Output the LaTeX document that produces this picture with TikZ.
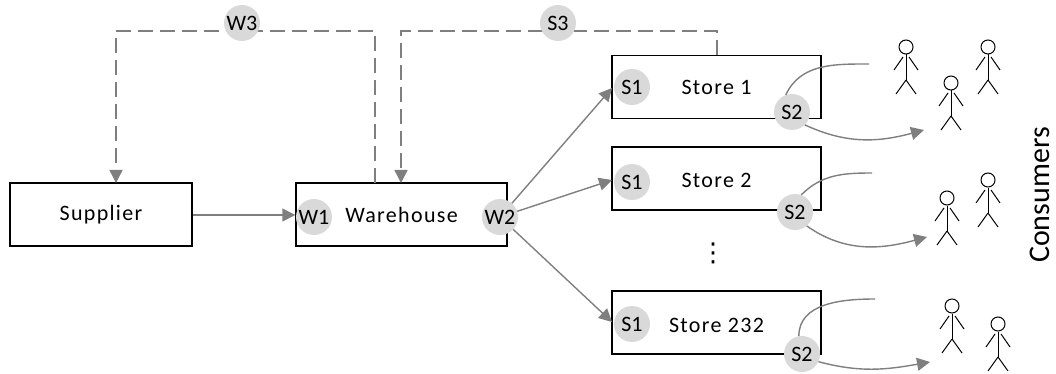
\documentclass[tikz,border=0pt]{standalone}
\usepackage{fontspec}
\usepackage{tikz}
\usetikzlibrary{arrows.meta}
\setmainfont{Carlito}
\newfontfamily\spacedfont[LetterSpace=6]{Carlito}
\newfontfamily\vdotsfont{DejaVu Sans}
\definecolor{linegray}{HTML}{7F7F7F}
\definecolor{badgegray}{HTML}{D9D9D9}
\tikzset{
    box/.style={draw=black, line width=1.4pt, minimum height=63pt, inner sep=0pt, font=\spacedfont\fontsize{22}{24}\selectfont},
    badge/.style={circle, fill=badgegray, minimum size=36pt, inner sep=0pt, font=\fontsize{22}{24}\selectfont},
    link/.style={draw=linegray, line width=1.4pt},
    flow/.style={link, -{Triangle[length=13pt, width=13pt]}},
    dashflow/.style={flow, dash pattern=on 15pt off 7pt},
    head/.style={circle, draw=black, line width=1pt, minimum size=14pt, inner sep=0pt},
}
\begin{document}
\begin{tikzpicture}[x=1pt, y=-1pt]
    \useasboundingbox (0,0) rectangle (1056,374);

    \node[box, minimum width=182pt] at (101,214.5) (supplier) {Supplier};
    \node[box, minimum width=211pt] at (401.5,214.5) (warehouse) {Warehouse};
    \node[box, minimum width=209pt] at (716.5,87) (store1) {Store 1};
    \node[box, minimum width=209pt] at (716.5,178.5) (store2) {\raisebox{-2pt}[\height][\depth]{Store 2}};
    \node[box, minimum width=209pt] at (716.5,322.5) (store3) {\raisebox{-3pt}[\height][\depth]{Store 232}};
    \node[font=\vdotsfont\fontsize{26}{28}\selectfont] at (713,253) (dots) {⋮};

    \coordinate (wout) at (375,183);
    \coordinate (sout) at (717,55);
    \coordinate (w3left) at (116,31);
    \coordinate (w3right) at (375,31);
    \coordinate (s3left) at (401,31);
    \coordinate (s3right) at (717,31);
    \coordinate (win1) at (116,183);
    \coordinate (win2) at (401,183);
    \coordinate (tip1) at (612,88);
    \coordinate (tip2) at (612,180);
    \coordinate (tip3) at (612,322);

    \draw[dashflow] (wout) -- (w3right) -- (w3left) -- (win1);
    \draw[dashflow] (sout) -- (s3right) -- (s3left) -- (win2);
    \draw[flow] (supplier.east |- 0,215) -- (warehouse.west |- 0,215);

    \node[badge] at (242,23) (w3) {W3};
    \node[badge] at (558,23) (s3) {S3};
    \node[badge] at (314,217) (w1) {W1};
    \node[badge] at (500,217) (w2) {W2};
    \node[badge] at (632,87) (s1a) {S1};
    \node[badge] at (632,182) (s1b) {S1};
    \node[badge] at (632,324) (s1c) {S1};
    \node[badge] at (792,112) (s2a) {S2};
    \node[badge] at (795,212) (s2b) {S2};
    \node[badge] at (802,354) (s2c) {S2};

    \draw[flow] (w2) -- (tip1);
    \draw[flow] (w2) -- (tip2);
    \draw[flow] (w2) -- (tip3);

    \coordinate (ca) at (869,64);
    \coordinate (cb) at (872,173);
    \coordinate (cc) at (875,299);
    \coordinate (da) at (924,130);
    \coordinate (db) at (927,237);
    \coordinate (dc) at (930,362);

    \draw[link] (s2a.110) to[out=65, in=180] (ca);
    \draw[link] (s2b.70) to[out=45, in=180] (cb);
    \draw[link] (s2c.100) to[out=90, in=180] (cc);
    \draw[flow] (s2a.-45) to[out=-25, in=195] (da);
    \draw[flow] (s2b.-50) to[out=-35, in=195] (db);
    \draw[flow] (s2c.-25) to[out=-15, in=190] (dc);

    \foreach \x/\y/\n in {906/47/1, 988/47/2, 951/83/3, 988/180/4, 947/198/5, 952/306/6, 998/324/7} {
        \node[head] at (\x,\y) (p\n) {};
        \draw[line width=1pt] (p\n.south) -- (\x,\y+33);
        \draw[line width=1pt] (\x-3,\y+10) -- (\x-12,\y+23);
        \draw[line width=1pt] (\x+3,\y+10) -- (\x+12,\y+23);
        \draw[line width=1pt] (\x,\y+33) -- (\x-10,\y+47);
        \draw[line width=1pt] (\x,\y+33) -- (\x+10,\y+47);
    }

    \node[rotate=90, font=\fontsize{30}{32}\selectfont] at (1040,195) (consumers) {Consumers};
\end{tikzpicture}
\end{document}
